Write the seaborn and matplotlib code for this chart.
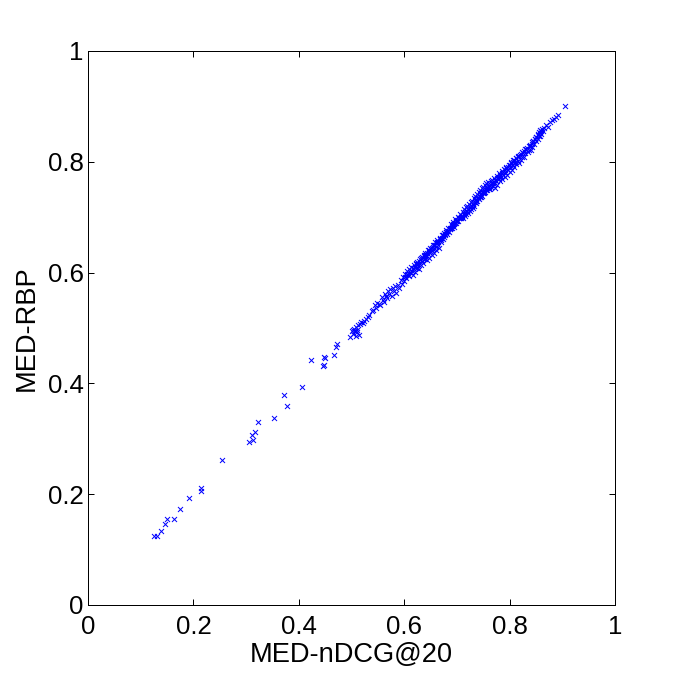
import matplotlib
matplotlib.use('Agg')
import matplotlib.pyplot as plt
import seaborn as sns

# low end, read point by point
x_low = [.125, .130, .139, .147, .149, .164, .175, .192, .215, .215, .255, .306, .314, .312, .317, .323,
         .352, .378, .372, .407, .424, .445, .447, .447, .450, .467, .471, .472]
y_low = [.124, .124, .133, .147, .155, .155, .173, .193, .205, .212, .261, .295, .297, .306, .313, .330,
         .337, .359, .379, .393, .443, .431, .433, .448, .445, .452, .465, .471]

# start of the band
x_a = [.498, .500, .502, .503, .505, .506, .508, .509, .510, .511, .513, .514, .516, .518, .521, .524, .527, .531,
       .534, .538, .541, .544, .547, .549, .552, .555, .557, .559, .561, .563, .566, .568, .570, .572, .574, .576,
       .578, .580, .583, .585, .588, .590, .593, .595, .598, .600]
y_a = [.483, .495, .497, .490, .499, .494, .486, .501, .492, .497, .505, .488, .507, .510, .509, .512, .516, .519,
       .524, .530, .533, .541, .537, .546, .544, .541, .556, .551, .547, .561, .558, .554, .567, .561, .570, .558,
       .572, .567, .575, .564, .578, .573, .587, .580, .592, .584]

# middle of the band
x_b = [.602, .604, .605, .607, .609, .610, .612, .613, .615, .616, .618, .619, .621, .622, .624, .625, .627, .628,
       .630, .631, .633, .634, .636, .637, .639, .640, .642, .643, .645, .646, .648, .649, .651, .652, .654, .655,
       .657, .658, .660, .661, .663, .664, .666, .667, .669, .670, .672, .673, .675, .676, .678, .679, .681, .682,
       .684, .685, .687, .688, .690, .691, .693, .694, .696, .697, .699, .700, .702, .703, .705, .706, .708, .709]
y_b = [.597, .590, .602, .596, .593, .607, .600, .611, .603, .596, .614, .606, .601, .617, .609, .620, .612, .606,
       .625, .614, .621, .629, .618, .632, .625, .636, .629, .622, .641, .633, .627, .645, .638, .632, .650, .642,
       .636, .655, .647, .641, .658, .650, .645, .663, .655, .659, .667, .660, .672, .665, .669, .677, .670, .675,
       .681, .673, .679, .687, .680, .684, .691, .683, .689, .697, .690, .694, .701, .693, .699, .705, .698, .701]

x_c = [.625, .632, .640, .648, .655, .662, .668, .674, .680, .686, .692, .698, .704, .710, .711, .712, .713, .714,
       .715, .716, .717, .718, .719, .720, .721, .722, .723, .724, .725, .726, .727, .728, .729, .730, .731, .732,
       .733, .734, .735, .736, .737, .738, .739, .740, .741, .742, .743, .744, .745, .746, .747, .748, .749, .750,
       .751, .752, .753, .754, .755, .756, .757, .758, .759, .760]
y_c = [.616, .626, .632, .641, .647, .654, .661, .667, .674, .679, .686, .693, .698, .703, .709, .698, .705, .714,
       .702, .709, .718, .705, .712, .720, .708, .715, .723, .711, .718, .727, .714, .721, .730, .717, .724, .734,
       .721, .728, .738, .725, .732, .741, .729, .736, .745, .733, .739, .749, .736, .743, .752, .739, .746, .755,
       .743, .749, .758, .746, .752, .761, .749, .755, .763, .751]

# upper part of the band
x_d = [.761, .762, .764, .765, .767, .768, .770, .771, .773, .774, .776, .777, .779, .780, .782, .783, .785, .786,
       .788, .789, .791, .792, .794, .795, .797, .798, .800, .801, .803, .804, .806, .807, .809, .810, .812, .813,
       .815, .816, .818, .820, .822, .824, .826, .828, .830, .832, .834, .836, .838, .840, .842, .843, .845, .847,
       .848, .850, .851, .853, .854, .855, .856, .857, .858, .859, .861, .863, .866, .869, .873, .877, .881, .885,
       .888, .891, .906]
y_d = [.759, .751, .765, .754, .768, .757, .760, .771, .753, .765, .775, .759, .769, .779, .765, .773, .783, .769,
       .777, .787, .773, .782, .791, .777, .785, .795, .781, .791, .799, .786, .795, .803, .790, .799, .807, .796,
       .802, .810, .798, .812, .804, .808, .816, .809, .815, .823, .817, .822, .829, .821, .833, .827, .837, .832,
       .841, .837, .845, .841, .851, .847, .854, .846, .857, .850, .860, .855, .861, .866, .863, .871, .875, .878,
       .880, .884, .901]

# points packed into the solid core of the band
x_e = [.601, .606, .611, .617, .620, .623, .626, .629, .635, .638, .641, .644, .647, .650, .653, .656, .659, .662,
       .665, .668, .671, .674, .677, .680, .683, .686, .689, .692, .695, .698, .701, .704, .707, .710, .713, .716,
       .719, .722, .725, .728, .731, .734, .737, .740, .743, .746, .749, .752, .755, .758, .761, .764, .767, .770,
       .773, .776, .779, .782, .785, .788, .791, .794, .797, .800, .803, .806, .809, .812, .815, .818, .821, .824,
       .827, .830, .833, .836, .839, .842, .845, .848, .851, .854, .857, .860]
y_e = [.592, .598, .601, .609, .610, .615, .616, .621, .626, .630, .632, .636, .638, .643, .644, .649, .650, .655,
       .656, .661, .662, .667, .668, .674, .675, .680, .681, .687, .688, .693, .695, .698, .700, .703, .706, .709,
       .712, .715, .718, .721, .724, .727, .730, .734, .736, .740, .743, .746, .749, .752, .755, .758, .761, .764,
       .767, .770, .773, .776, .779, .782, .785, .788, .791, .795, .797, .800, .803, .806, .809, .811, .814, .817,
       .820, .823, .825, .829, .831, .835, .837, .841, .844, .849, .852, .856]

x_vals = x_low + x_a + x_b + x_c + x_d + x_e
y_vals = y_low + y_a + y_b + y_c + y_d + y_e

x_ticks = [0, 0.2, 0.4, 0.6, 0.8, 1]
y_ticks = [0, 0.2, 0.4, 0.6, 0.8, 1]
tick_labels = ['0', '0.2', '0.4', '0.6', '0.8', '1']

sns.set_style('white')
plt.rcParams['font.family'] = ['Liberation Sans', 'DejaVu Sans']

fig = plt.figure(figsize=(6.8, 6.8), dpi=100)
ax = fig.add_axes([88 / 680, 1 - 605 / 680, 527 / 680, 554 / 680])
sns.scatterplot(x=x_vals, y=y_vals, marker='x', s=13, color='#0000ff', linewidth=0.72, antialiased=False, ax=ax)
ax.set_xlim(0, 1)
ax.set_ylim(0, 1)
ax.set_xticks(x_ticks)
ax.set_yticks(y_ticks)
ax.set_xticklabels(tick_labels)
ax.set_yticklabels(tick_labels)
ax.tick_params(direction='in', length=4, width=0.72, top=True, right=True, bottom=True, left=True,
               labelsize=18.6, color='black', labelcolor='black')
ax.tick_params(axis='x', pad=7.5)
ax.tick_params(axis='y', pad=3)
for s in ax.spines.values():
    s.set_visible(True)
    s.set_color('black')
    s.set_linewidth(0.72)
ax.set_xlabel('MED-nDCG@20', fontsize=19.6, color='black', labelpad=1.5)
ax.set_ylabel('MED-RBP', fontsize=19.6, color='black', labelpad=6)
fig.savefig('out.png', dpi=100)
